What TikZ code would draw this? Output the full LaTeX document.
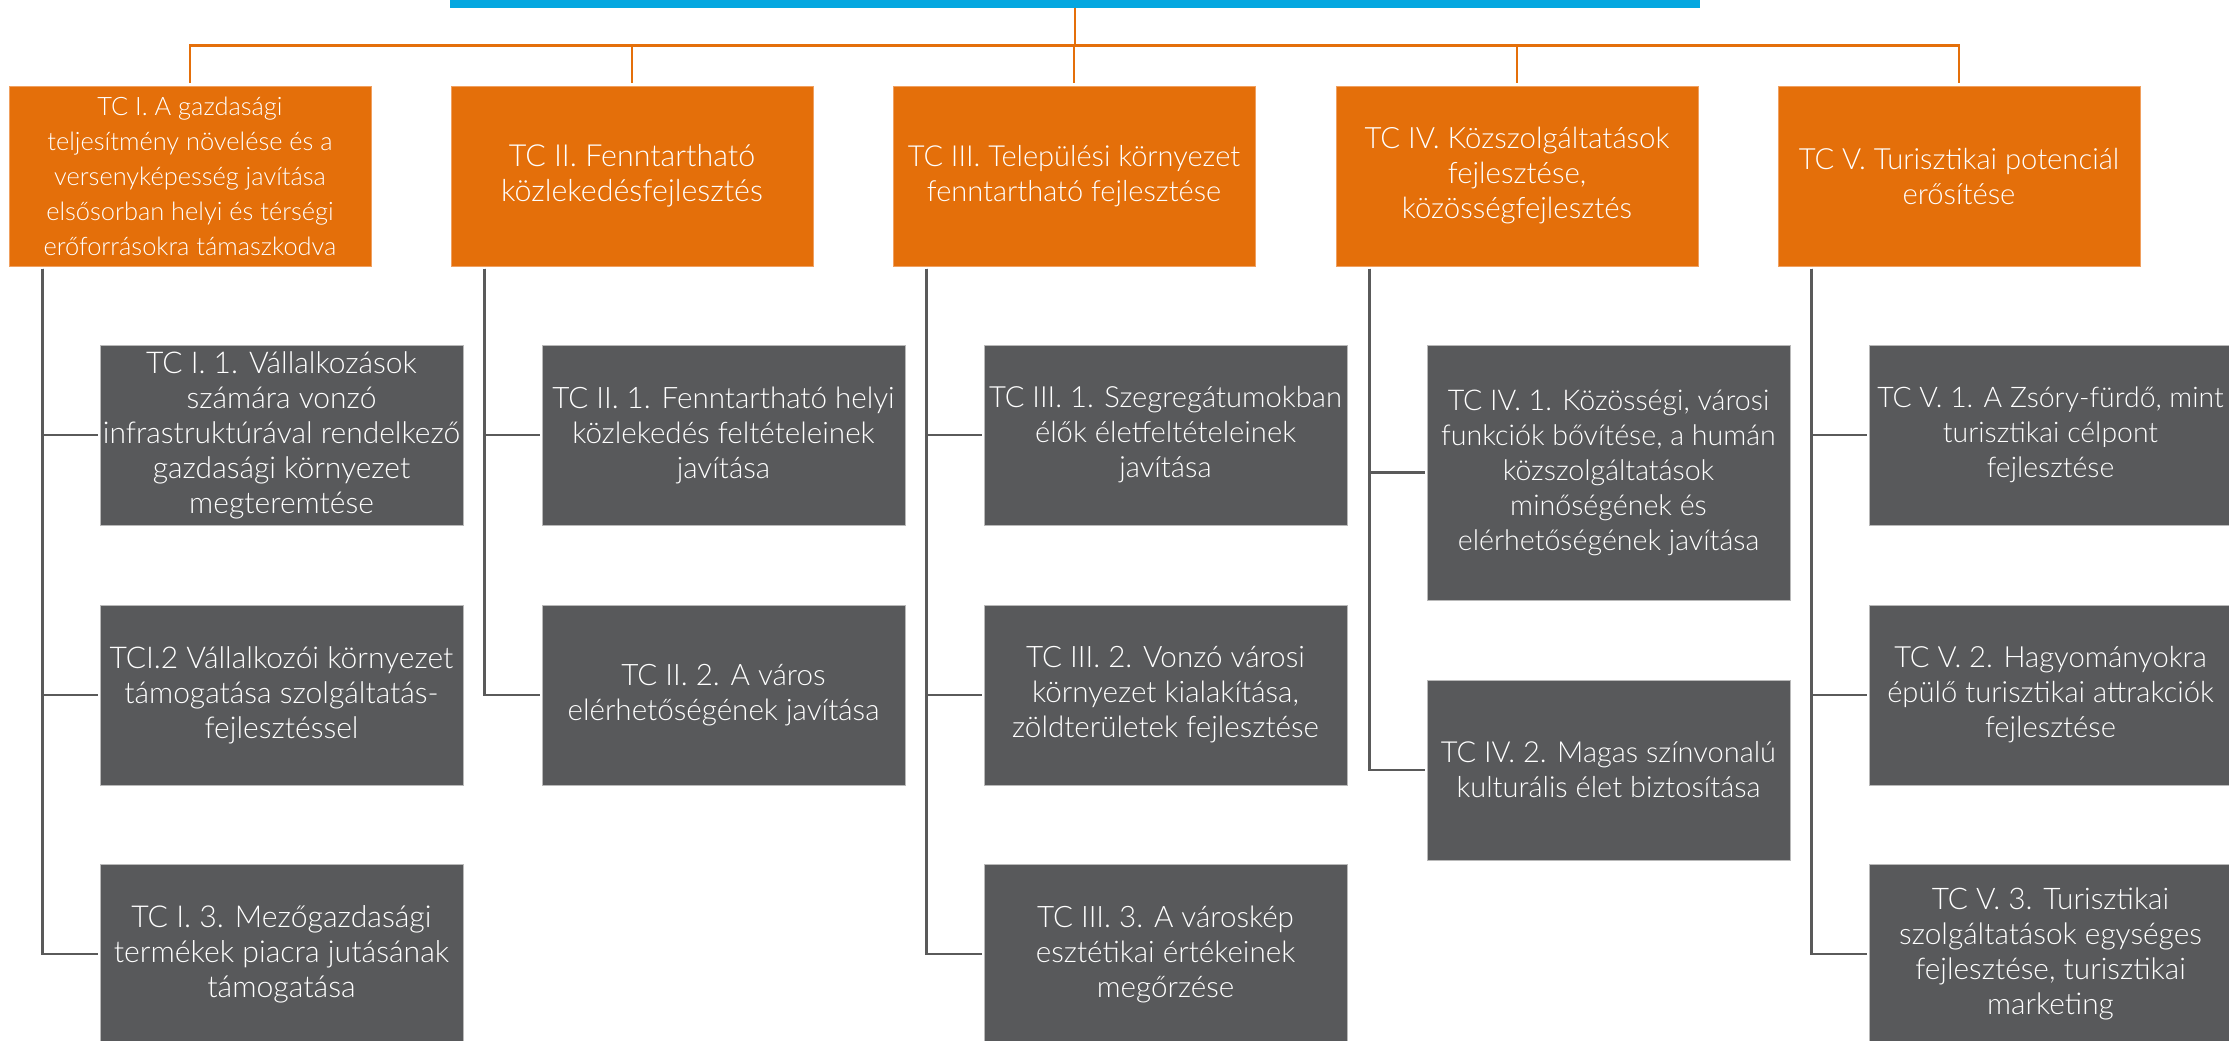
\documentclass[tikz,border=0pt]{standalone}
\usepackage{fontspec}
\setmainfont{Lato}[UprightFont={* Light}]
\definecolor{tcorange}{HTML}{E46F0A}
\definecolor{tcorangeedge}{HTML}{F0A060}
\definecolor{tcgray}{HTML}{58595B}
\definecolor{tcline}{HTML}{5A5A5A}
\definecolor{tcblue}{HTML}{05A7E0}
\newcommand{\fsz}[1]{\fontsize{#1}{17.5}\selectfont}
\begin{document}
\begin{tikzpicture}[x=0.5pt,y=-0.5pt,
  hdr/.style={fill=tcorange,draw=tcorangeedge,line width=0.5pt,minimum width=181pt,minimum height=90pt,inner sep=0pt,align=center,text=white,font=\fsz{14.7}},
  sub/.style={fill=tcgray,draw=gray!55,line width=0.5pt,minimum width=181.5pt,minimum height=90pt,inner sep=0pt,align=center,text=white,font=\fsz{14.8}},
  oline/.style={draw=tcorange,line width=1.4pt},
  gline/.style={draw=tcline,line width=1.4pt}]
\useasboundingbox (0,0) rectangle (2229,1040);
\fill[white] (0,0) rectangle (2229,1040);
% top bar
\node[fill=tcblue,minimum width=625pt,minimum height=6pt,inner sep=0pt] (bar) at (1075,1.5) {};
\coordinate (bus) at (0,45.5);
% headers
\node[hdr,font=\fsz{12.7}] (h1) at (190,176) {TC I. A gazdasági\\teljesítmény növelése és a\\versenyképesség javítása\\elsősorban helyi és térségi\\erőforrásokra támaszkodva};
\node[hdr,font=\fsz{15.2}] (h2) at (632,176) {TC II. Fenntartható\\közlekedésfejlesztés};
\node[hdr,font=\fsz{14.5}] (h3) at (1074,176) {TC III. Települési környezet\\fenntartható fejlesztése};
\node[hdr] (h4) at (1517,176) {TC IV. Közszolgáltatások\\fejlesztése,\\közösségfejlesztés};
\node[hdr,font=\fsz{14.6}] (h5) at (1959,176) {TC V. Turisztikai potenciál\\erősítése};
% sub boxes
\node[sub,font=\fsz{15.0}] (g11) at (281.5,435) {TC I. 1. Vállalkozások\\számára vonzó\\infrastruktúrával rendelkező\\gazdasági környezet\\megteremtése};
\node[sub,font=\fsz{15.0}] (g12) at (281.5,695) {TCI.2 Vállalkozói környezet\\támogatása szolgáltatás-\\fejlesztéssel};
\node[sub,font=\fsz{15.1}] (g13) at (281.5,954) {TC I. 3. Mezőgazdasági\\termékek piacra jutásának\\támogatása};
\node[sub] (g21) at (723.5,435) {TC II. 1. Fenntartható helyi\\közlekedés feltételeinek\\javítása};
\node[sub] (g22) at (723.5,695) {TC II. 2. A város\\elérhetőségének javítása};
\node[sub,font=\fsz{14.6}] (g31) at (1165.5,435) {TC III. 1. Szegregátumokban\\élők életfeltételeinek\\javítása};
\node[sub] (g32) at (1165.5,695) {TC III. 2. Vonzó városi\\környezet kialakítása,\\zöldterületek fejlesztése};
\node[sub] (g33) at (1165.5,954) {TC III. 3. A városkép\\esztétikai értékeinek\\megőrzése};
\node[sub,font=\fsz{14.3},minimum height=127.5pt] (g41) at (1608.5,472.5) {TC IV. 1. Közösségi, városi\\funkciók bővítése, a humán\\közszolgáltatások\\minőségének és\\elérhetőségének javítása};
\node[sub,font=\fsz{14.5}] (g42) at (1608.5,770) {TC IV. 2. Magas színvonalú\\kulturális élet biztosítása};
\node[sub,font=\fsz{14.2}] (g51) at (2050.5,435) {TC V. 1. A Zsóry-fürdő, mint\\turisztikai célpont\\fejlesztése};
\node[sub,font=\fsz{14.6}] (g52) at (2050.5,695) {TC V. 2. Hagyományokra\\épülő turisztikai attrakciók\\fejlesztése};
\node[sub,font=\fsz{14.9}] (g53) at (2050.5,954) {TC V. 3. Turisztikai\\szolgáltatások egységes\\fejlesztése, turisztikai\\marketing};
% orange connectors
\foreach \h in {h1,h2,h3,h4,h5}{
  \draw[oline] (bar.south) |- (\h.north |- bus) -- ([yshift=1.5pt]\h.north);
}
% gray connectors
\foreach \h/\g in {h1/g11,h1/g12,h1/g13,h2/g21,h2/g22,h3/g31,h3/g32,h3/g33,h4/g41,h4/g42,h5/g51,h5/g52,h5/g53}{
  \draw[gline] ([xshift=17pt,yshift=-1pt]\h.south west) |- ([xshift=-1pt]\g.west);
}
\end{tikzpicture}
\end{document}
